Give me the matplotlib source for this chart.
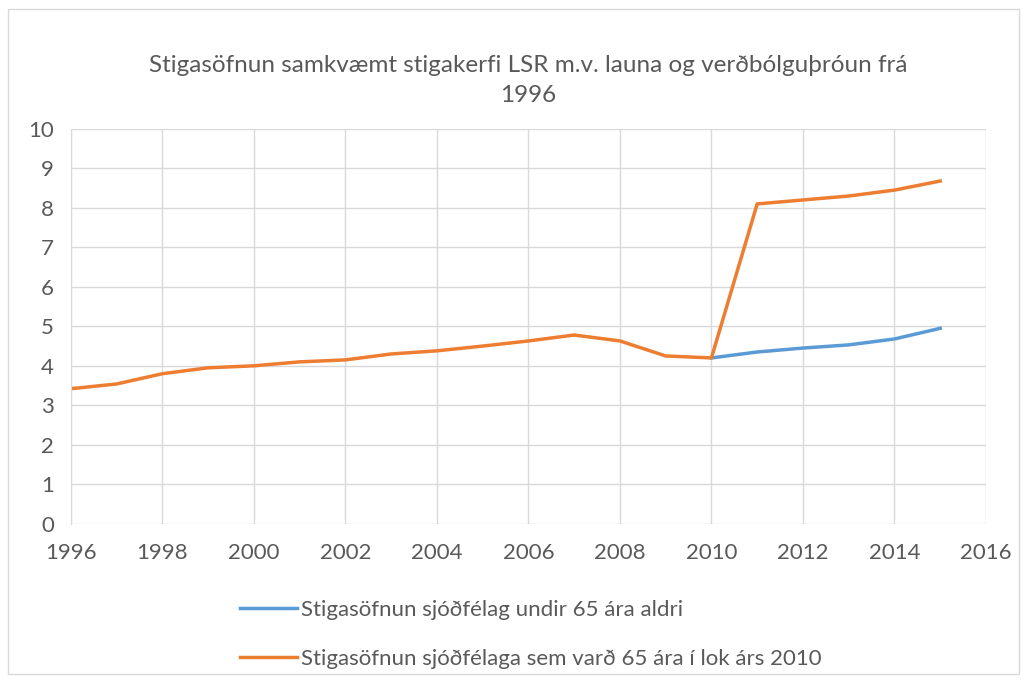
import matplotlib.pyplot as plt
from matplotlib.patches import Rectangle

plt.rcParams['font.family'] = ['Lato', 'DejaVu Sans']

years_young = [2010, 2011, 2012, 2013, 2014, 2015]
points_young = [4.2, 4.35, 4.45, 4.53, 4.68, 4.95]

years_old = list(range(1996, 2016))
points_old = [3.42, 3.54, 3.8, 3.95, 4.0, 4.1, 4.15, 4.3, 4.38, 4.5,
              4.63, 4.78, 4.63, 4.25, 4.2, 8.1, 8.2, 8.3, 8.45, 8.68]

label_young = "Stigasöfnun sjóðfélag undir 65 ára aldri"
label_old = "Stigasöfnun sjóðfélaga sem varð 65 ára í lok árs 2010"
title = "Stigasöfnun samkvæmt stigakerfi LSR m.v. launa og verðbólguþróun frá\n1996"

txt = '#595959'
fig = plt.figure(figsize=(10.26, 6.82), dpi=100)
fig.patches.append(Rectangle((0.008, 0.012), 0.985, 0.975, transform=fig.transFigure,
                             fill=False, edgecolor='#D9D9D9', linewidth=1))
ax = fig.add_axes([0.069, 0.232, 0.892, 0.579])

l1, = ax.plot(years_young, points_young, color='#5B9BD5', linewidth=2.5)
l2, = ax.plot(years_old, points_old, color='#ED7D31', linewidth=2.5)

ax.set_xlim(1996, 2016)
ax.set_ylim(0, 10)
ax.set_xticks(range(1996, 2017, 2))
ax.set_yticks(range(0, 11))
ax.grid(True, color='#D9D9D9', linewidth=1)
ax.set_axisbelow(True)
for s in ['top', 'right', 'bottom']:
    ax.spines[s].set_visible(False)
ax.spines['left'].set_color('#D9D9D9')
ax.tick_params(length=0, labelsize=16, colors=txt, pad=12)
ax.tick_params(axis='x', pad=14)

fig.text(0.515, 0.882, title, ha='center', va='center', fontsize=17.5, color=txt,
         linespacing=1.5)

fig.legend([l1, l2], [label_young, label_old], loc='upper left',
           bbox_to_anchor=(0.214, 0.15), frameon=False, fontsize=16,
           labelcolor=txt, handlelength=2.6, handletextpad=0.15, labelspacing=1.3)

fig.savefig('out.png', dpi=100)
